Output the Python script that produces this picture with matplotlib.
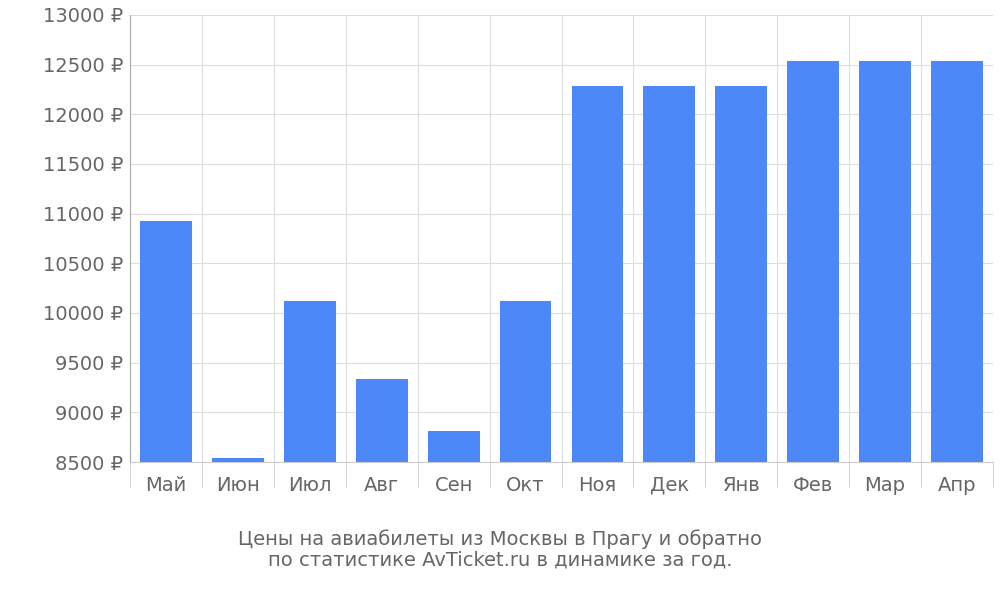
import matplotlib
matplotlib.use("Agg")
import matplotlib.pyplot as plt
import numpy as np

months = ["Май", "Июн", "Июл", "Авг", "Сен", "Окт", "Ноя", "Дек", "Янв", "Фев", "Мар", "Апр"]
prices = [10925, 8540, 10120, 9336, 8812, 10120, 12286, 12286, 12286, 12538, 12538, 12538]
yticks = list(range(8500, 13001, 500))

fig = plt.figure(figsize=(10, 6), dpi=100)
ax = fig.add_axes([0.13, 0.23, 0.863, 0.745])
x = np.arange(len(months))
ax.bar(x, [p - 8500 for p in prices], bottom=8500, width=0.72, color="#4d88f9", zorder=3)
ax.set_xlim(-0.5, len(months) - 0.5)
ax.set_ylim(8500, 13000)
ax.set_yticks(yticks)
ax.set_yticklabels([f"{v} ₽" for v in yticks], fontsize=14, color="#666666")
ax.set_xticks(x)
ax.set_xticklabels(months, fontsize=14, color="#666666")
ax.tick_params(axis="x", length=0, pad=10)
ax.tick_params(axis="y", length=0, pad=5)
ax.set_xticks(np.arange(-0.5, len(months)), minor=True)
ax.tick_params(axis="x", which="minor", length=18, color="#cccccc")
ax.grid(True, which="minor", axis="x", color="#dddddd", zorder=0)
ax.grid(True, which="major", axis="y", color="#dddddd", zorder=0)
for s in ["top", "right"]:
    ax.spines[s].set_visible(False)
ax.spines["left"].set_color("#aaaaaa")
ax.spines["bottom"].set_color("#cccccc")
fig.text(0.5, 0.085, "Цены на авиабилеты из Москвы в Прагу и обратно\nпо статистике AvTicket.ru в динамике за год.",
         ha="center", va="center", fontsize=14, color="#666666", linespacing=1.1)
fig.savefig("out.png")
